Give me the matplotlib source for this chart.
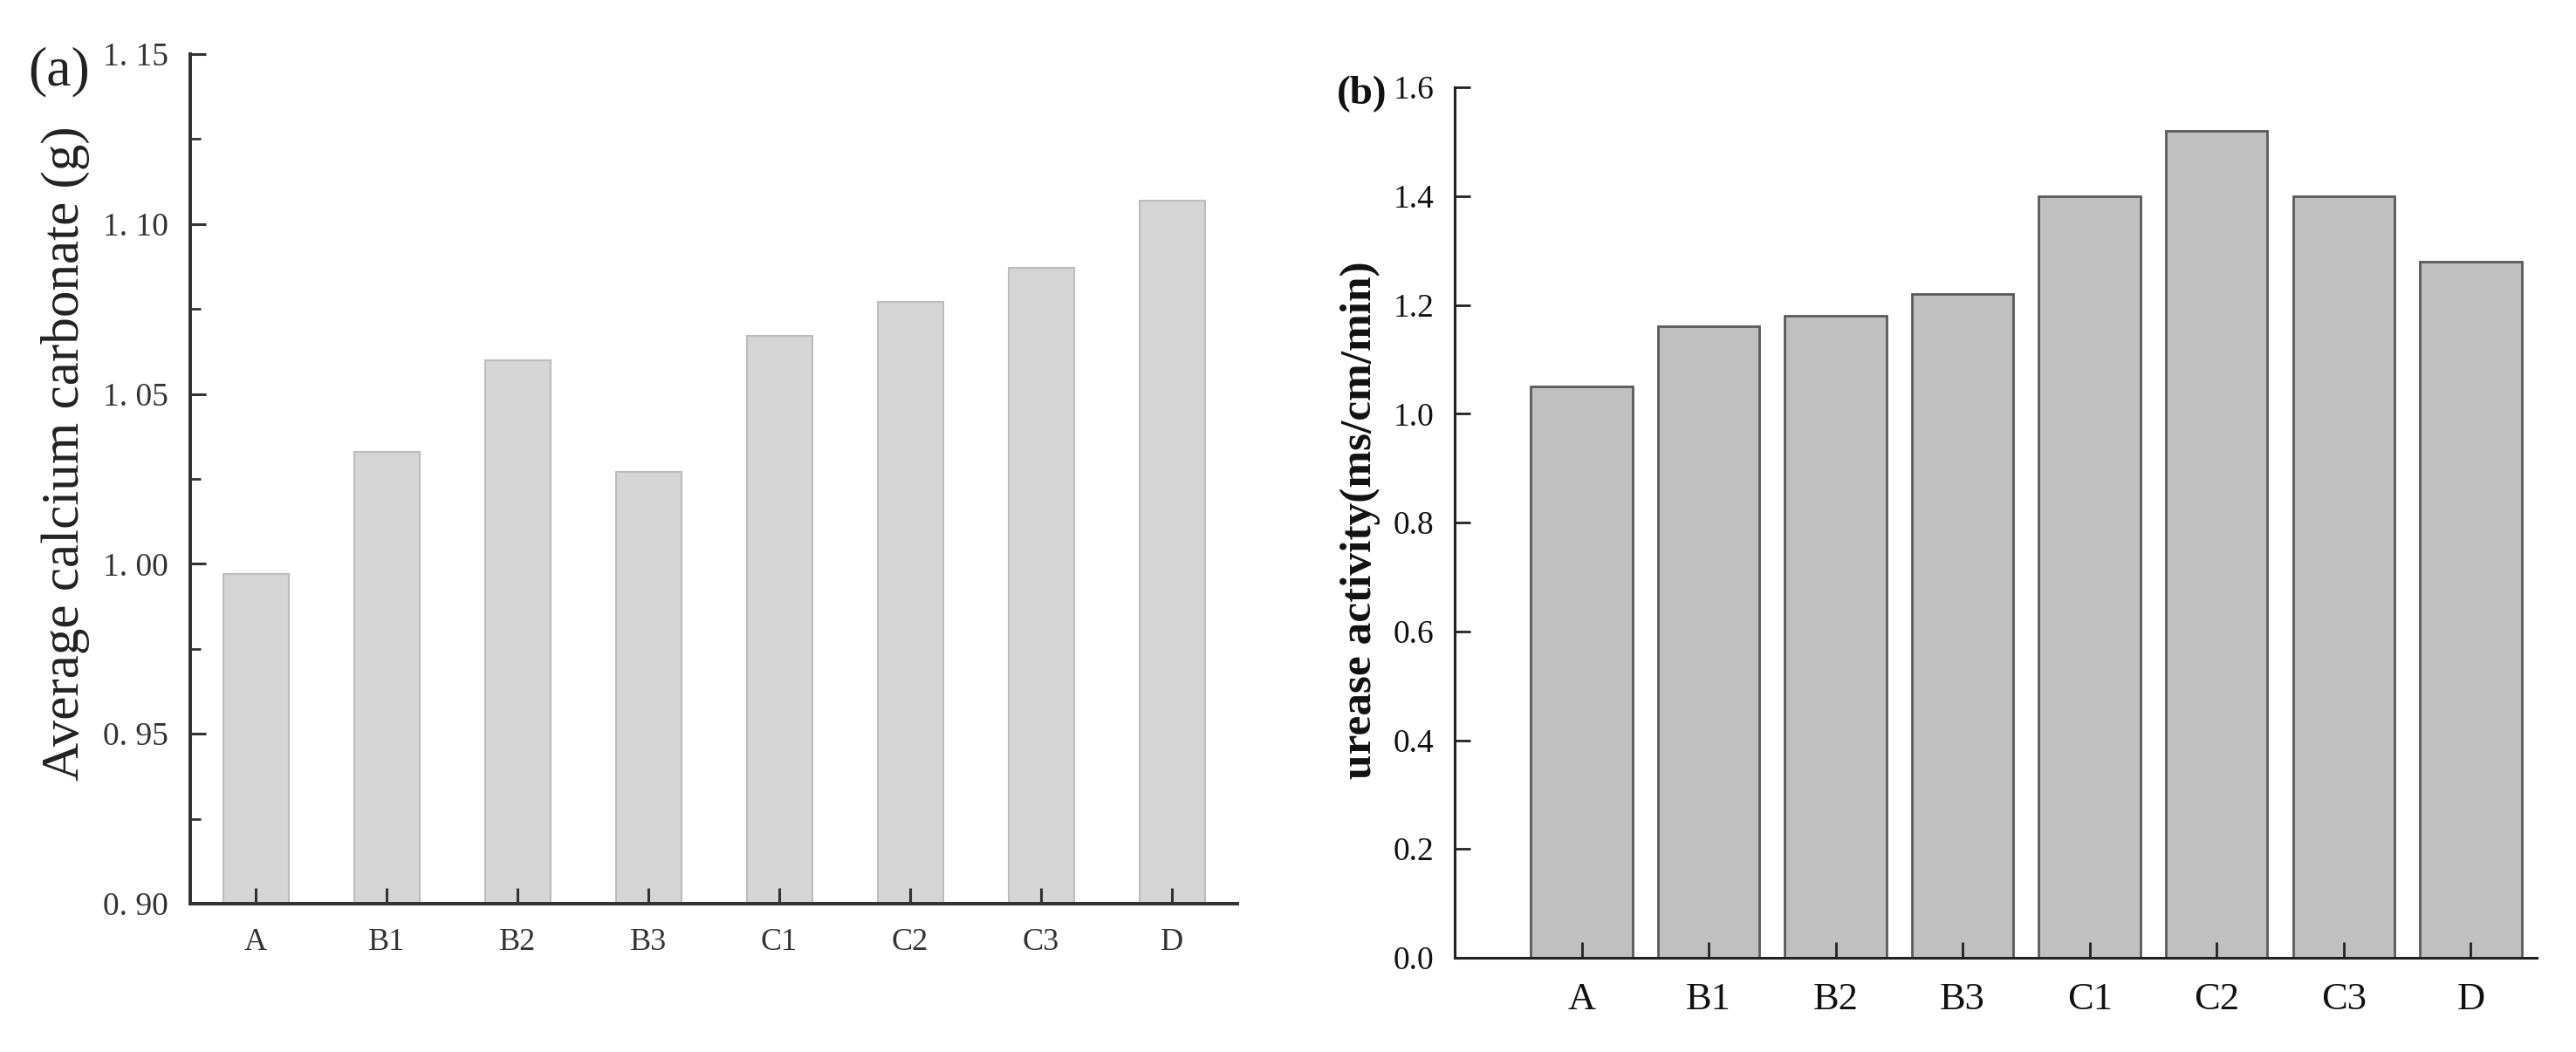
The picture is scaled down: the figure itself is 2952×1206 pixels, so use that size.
import matplotlib
matplotlib.use("Agg")
import matplotlib.pyplot as plt
from matplotlib.ticker import FixedLocator, MultipleLocator

# ---- data ----
categories = ["A", "B1", "B2", "B3", "C1", "C2", "C3", "D"]
calcium_carbonate = [0.997, 1.033, 1.060, 1.027, 1.067, 1.077, 1.087, 1.107]
urease_activity = [1.05, 1.16, 1.18, 1.22, 1.40, 1.52, 1.40, 1.28]

a_yticks = [0.90, 0.95, 1.00, 1.05, 1.10, 1.15]
a_yticklabels = ["0. 90", "0. 95", "1. 00", "1. 05", "1. 10", "1. 15"]
b_yticks = [0.0, 0.2, 0.4, 0.6, 0.8, 1.0, 1.2, 1.4, 1.6]
b_yticklabels = ["0.0", "0.2", "0.4", "0.6", "0.8", "1.0", "1.2", "1.4", "1.6"]

a_ylabel = "Average calcium carbonate (g)"
b_ylabel = "urease activity(ms/cm/min)"

plt.rcParams["font.family"] = ["Liberation Serif", "DejaVu Serif"]

W, H = 2952, 1206
fig = plt.figure(figsize=(W / 100, H / 100), dpi=100)


def px_axes(l, t, r, b):
    return fig.add_axes([l / W, 1 - b / H, (r - l) / W, (b - t) / H])


# ---- panel (a) ----
axa = px_axes(218, 62, 1418, 1036)
xa = list(range(len(categories)))
axa.bar(xa, calcium_carbonate, width=0.5, color="#d5d5d5",
        edgecolor="#bcbcbc", linewidth=1.5, zorder=1)
axa.set_xlim(-0.5, 7.5)
axa.set_ylim(0.90, 1.15)
axa.set_xticks(xa)
axa.set_xticklabels(categories, fontsize=26, color="#333333")
axa.yaxis.set_major_locator(FixedLocator(a_yticks))
axa.set_yticklabels(a_yticklabels, fontsize=27, color="#333333")
axa.yaxis.set_minor_locator(MultipleLocator(0.025))
for s in ["top", "right"]:
    axa.spines[s].set_visible(False)
for s in ["left", "bottom"]:
    axa.spines[s].set_linewidth(2.9)
    axa.spines[s].set_color("#333333")
    axa.spines[s].set_zorder(3)
axa.tick_params(axis="both", which="major", direction="in", length=13,
                width=2.2, color="#333333")
axa.tick_params(axis="y", which="minor", direction="in", length=8.5,
                width=2.0, color="#333333")
axa.tick_params(axis="y", which="major", pad=18)
axa.tick_params(axis="x", which="major", pad=20)
axa.set_ylabel(a_ylabel, fontsize=44, color="#222222", va="center")
axa.yaxis.set_label_coords(-0.119, 0.53)
fig.text(68 / W, 1 - 82 / H, "(a)", fontsize=46, ha="center", va="center",
         color="#222222")

# ---- panel (b) ----
axb = px_axes(1667, 100, 2907, 1098)
axb.bar(xa, urease_activity, width=0.8, color="#c0c0c0",
        edgecolor="#5a5a5a", linewidth=2.0, zorder=1)
axb.set_xlim(-1, 7.52)
axb.set_ylim(0.0, 1.6)
axb.set_xticks(xa)
axb.set_xticklabels(categories, fontsize=32, color="#111111")
axb.yaxis.set_major_locator(FixedLocator(b_yticks))
axb.set_yticklabels(b_yticklabels, fontsize=27, color="#111111")
for s in ["top", "right"]:
    axb.spines[s].set_visible(False)
for s in ["left", "bottom"]:
    axb.spines[s].set_linewidth(2.2)
    axb.spines[s].set_color("#222222")
    axb.spines[s].set_zorder(3)
axb.tick_params(axis="both", which="major", direction="in", length=13,
                width=2.0, color="#222222")
axb.tick_params(axis="y", which="major", pad=17)
axb.tick_params(axis="x", which="major", pad=20)
axb.set_ylabel(b_ylabel, fontsize=37, fontweight="bold", color="#111111",
               va="center")
axb.yaxis.set_label_coords(-0.087, 0.503)
fig.text(1561 / W, 1 - 108 / H, "(b)", fontsize=34, fontweight="bold",
         ha="center", va="center", color="#111111")

fig.savefig("out.png", dpi=100)
